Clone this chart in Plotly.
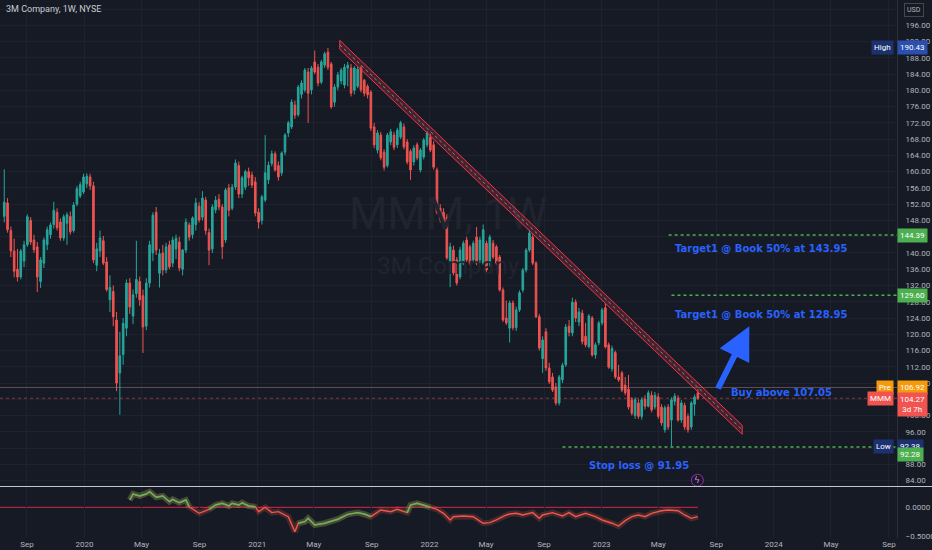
"""3M Company weekly chart (TradingView dark style) with descending trend channel,
targets / stop loss notes and a small oscillator pane underneath."""
import pandas as pd
import plotly.graph_objects as go

BG = "#161a25"
GRID = "#1e222d"
TXT = "#b2b5be"
UP = "#26a69a"
DOWN = "#ef5350"
BLUE = "#2962ff"
GREEN = "#4caf50"
FONT = "Roboto"

# weekly candles (first week starts 2019-07-15)
week_start = "2019-07-15"
opens = [
    149.0, 152.3, 145.5, 140.5, 136.0, 134.1, 138.0, 142.0, 148.0, 143.2,
    141.5, 133.0, 137.5, 142.0, 144.5, 147.0, 150.0, 147.6, 143.7, 147.3,
    149.0, 145.5, 152.0, 154.0, 155.0, 157.0, 158.7, 156.5, 137.0, 140.5,
    143.0, 137.8, 128.5, 130.5, 123.5, 110.5, 115.0, 121.5, 132.6, 124.5,
    130.0, 133.0, 129.5, 122.0, 132.6, 140.0, 150.0, 135.0, 140.0, 135.8,
    142.0, 137.5, 141.0, 142.7, 136.0, 140.7, 146.9, 144.5, 147.0, 151.5,
    148.8, 153.0, 145.0, 141.0, 150.6, 153.2, 151.3, 143.2, 156.0, 151.0,
    156.2, 161.5, 154.5, 156.2, 160.0, 159.2, 157.5, 150.0, 148.0, 153.0,
    158.0, 162.0, 164.4, 161.5, 159.7, 164.8, 169.5, 171.0, 176.4, 174.0,
    179.0, 180.1, 184.5, 180.1, 187.0, 185.7, 182.0, 186.2, 189.4, 186.5,
    177.1, 180.8, 182.3, 181.3, 185.5, 185.5, 180.0, 181.0, 185.5, 182.5,
    181.0, 179.6, 171.0, 165.3, 169.0, 164.8, 161.5, 167.3, 169.0, 166.6,
    168.5, 171.0, 167.3, 165.0, 162.4, 166.6, 160.4, 163.6, 166.6, 168.5,
    166.6, 160.4, 151.0, 150.0, 148.8, 137.5, 140.7, 138.3, 134.1, 137.5,
    143.2, 141.5, 138.3, 143.9, 138.3, 137.5, 142.4, 137.5, 142.4, 141.5,
    139.0, 130.9, 124.0, 121.5, 127.7, 121.6, 126.0, 130.9, 135.8, 140.7,
    143.9, 137.5, 124.3, 114.0, 120.6, 111.7, 109.5, 107.0, 103.1, 108.8,
    112.5, 122.0, 120.3, 127.9, 123.0, 125.2, 119.5, 117.0, 124.0, 114.9,
    117.9, 122.8, 126.5, 117.4, 111.5, 115.5, 109.5, 110.5, 107.5, 106.5,
    103.9, 100.0, 103.1, 99.8, 104.0, 102.3, 105.0, 102.1, 104.6, 102.1,
    96.5, 102.1, 98.9, 103.5, 104.3, 98.9, 102.5, 99.8, 97.2, 102.8,
    105.6,
]
highs = [
    160.6, 153.5, 146.5, 143.5, 141.0, 141.0, 143.0, 149.5, 148.8, 144.5,
    142.7, 139.0, 143.8, 146.5, 147.5, 152.6, 151.0, 148.5, 149.5, 150.0,
    150.2, 152.5, 156.5, 157.5, 159.5, 159.6, 159.5, 157.5, 142.5, 145.5,
    144.2, 139.0, 134.5, 132.0, 125.5, 120.6, 124.0, 133.5, 133.8, 131.0,
    143.0, 134.2, 131.0, 133.8, 143.0, 150.0, 151.3, 141.0, 142.0, 142.5,
    143.0, 144.0, 144.5, 144.0, 141.0, 148.5, 147.5, 149.0, 153.5, 152.5,
    155.2, 153.8, 146.0, 152.0, 154.0, 154.5, 152.0, 156.0, 157.0, 157.0,
    163.0, 162.5, 159.0, 160.5, 161.0, 160.0, 158.7, 151.0, 154.3, 169.0,
    162.5, 165.2, 165.0, 162.5, 165.0, 169.5, 172.5, 177.8, 177.5, 181.3,
    182.5, 185.5, 185.5, 186.0, 189.8, 186.5, 187.5, 189.5, 190.43, 187.0,
    181.5, 184.5, 185.5, 186.5, 187.0, 186.5, 186.0, 185.8, 186.0, 182.8,
    181.5, 180.0, 172.0, 170.2, 169.8, 165.5, 169.5, 170.5, 169.8, 170.8,
    172.5, 171.8, 168.0, 165.5, 166.5, 167.2, 165.8, 168.3, 170.0, 169.3,
    167.5, 161.0, 152.0, 151.0, 149.5, 142.5, 141.8, 139.0, 141.5, 143.0,
    144.0, 142.0, 143.0, 146.4, 144.0, 147.0, 143.0, 144.5, 143.2, 142.0,
    139.5, 131.5, 128.3, 128.3, 128.3, 126.8, 130.8, 136.3, 141.2, 145.7,
    144.6, 138.0, 125.0, 119.5, 121.5, 113.0, 110.5, 108.0, 110.0, 113.0,
    122.5, 123.5, 129.0, 128.6, 126.5, 126.0, 122.8, 125.0, 124.5, 118.0,
    123.3, 126.5, 127.6, 118.0, 117.2, 116.0, 112.5, 111.0, 109.5, 110.0,
    104.5, 104.5, 104.0, 104.5, 105.0, 106.2, 106.0, 105.8, 105.5, 102.8,
    102.5, 102.8, 104.5, 105.5, 105.0, 103.8, 103.2, 100.5, 103.6, 105.2,
    106.5,
]
lows = [
    147.5, 145.0, 139.0, 134.0, 133.0, 133.5, 136.5, 141.5, 142.0, 140.0,
    130.4, 131.4, 136.3, 140.7, 143.5, 146.0, 145.5, 143.0, 143.0, 142.0,
    144.5, 145.0, 151.5, 153.5, 154.5, 156.0, 155.5, 137.5, 135.5, 139.0,
    137.0, 130.5, 125.5, 122.0, 106.0, 100.2, 112.5, 119.5, 125.0, 122.5,
    129.0, 127.0, 115.4, 121.0, 131.5, 138.0, 139.5, 131.5, 134.5, 135.0,
    136.0, 136.5, 138.5, 135.5, 134.5, 140.0, 143.0, 143.5, 145.5, 147.5,
    148.0, 144.5, 137.0, 140.0, 149.8, 150.5, 138.5, 142.5, 149.0, 150.5,
    155.5, 153.5, 153.5, 155.5, 156.5, 156.0, 149.0, 146.0, 147.0, 152.5,
    157.0, 161.3, 160.0, 157.8, 159.0, 164.0, 168.5, 170.5, 173.0, 173.5,
    178.0, 179.5, 172.0, 179.0, 184.0, 181.0, 181.5, 185.5, 185.0, 175.5,
    176.0, 180.0, 181.5, 180.5, 181.0, 178.5, 179.0, 180.5, 179.5, 178.5,
    178.0, 170.0, 165.8, 164.5, 162.8, 160.3, 161.0, 166.5, 165.3, 165.8,
    168.0, 165.5, 161.8, 158.0, 161.5, 162.8, 159.8, 163.0, 166.0, 164.8,
    160.5, 149.5, 147.5, 146.0, 138.3, 131.6, 134.5, 132.0, 133.5, 137.0,
    137.8, 137.0, 137.5, 137.0, 137.5, 137.0, 135.3, 136.8, 138.5, 137.0,
    130.5, 123.0, 122.3, 118.0, 121.0, 120.8, 125.5, 130.3, 135.2, 140.2,
    137.0, 124.0, 116.0, 110.5, 111.0, 107.8, 105.8, 102.5, 102.5, 108.0,
    112.0, 119.5, 119.5, 123.0, 122.0, 117.5, 116.8, 116.5, 114.5, 114.0,
    117.3, 122.2, 116.5, 111.5, 110.8, 109.0, 108.3, 105.8, 105.0, 101.5,
    100.0, 99.2, 99.2, 99.0, 101.5, 102.0, 100.8, 101.5, 99.2, 97.5,
    95.8, 96.5, 92.38, 102.5, 98.5, 98.2, 96.5, 95.8, 96.5, 100.0,
    103.8,
]
closes = [
    152.5, 145.7, 140.5, 135.5, 134.1, 140.5, 142.0, 148.9, 142.7, 140.8,
    134.1, 138.3, 143.2, 145.7, 146.9, 150.5, 146.2, 143.7, 148.9, 149.4,
    145.2, 151.8, 155.8, 156.8, 158.7, 158.9, 156.5, 138.3, 141.0, 143.7,
    137.5, 131.0, 131.5, 124.3, 108.0, 114.7, 122.7, 132.6, 126.7, 129.7,
    133.5, 128.5, 121.8, 132.6, 142.0, 149.3, 140.7, 139.8, 135.8, 141.5,
    136.6, 143.2, 143.6, 136.3, 140.7, 147.6, 143.9, 148.6, 152.3, 148.1,
    153.5, 145.5, 140.7, 151.3, 153.0, 151.3, 141.5, 155.5, 150.5, 156.2,
    162.1, 154.5, 158.5, 160.0, 158.5, 156.7, 149.8, 147.6, 153.8, 159.7,
    161.6, 164.4, 160.4, 158.7, 164.6, 169.0, 172.0, 177.1, 173.9, 180.8,
    181.8, 185.0, 179.3, 185.5, 184.5, 181.8, 187.0, 189.0, 185.7, 175.9,
    180.8, 183.8, 185.0, 185.7, 186.2, 179.3, 185.5, 185.2, 180.1, 179.3,
    178.9, 170.7, 166.6, 169.5, 163.4, 161.1, 169.0, 169.8, 166.0, 170.2,
    172.0, 166.1, 162.4, 160.4, 165.8, 163.4, 165.3, 167.8, 169.5, 165.3,
    161.1, 150.0, 148.3, 147.0, 138.8, 141.5, 135.1, 132.6, 140.7, 142.4,
    138.3, 137.5, 142.4, 137.5, 143.2, 145.7, 135.8, 143.9, 139.0, 137.5,
    130.9, 123.5, 122.8, 127.7, 121.6, 126.0, 130.2, 135.8, 140.7, 144.9,
    137.5, 124.3, 116.6, 118.6, 111.7, 108.3, 106.3, 103.1, 109.5, 112.4,
    121.8, 120.5, 127.9, 124.0, 125.5, 118.2, 117.4, 124.5, 114.9, 117.4,
    122.8, 126.0, 116.9, 111.9, 116.5, 109.5, 108.8, 106.3, 105.6, 102.1,
    100.6, 103.9, 99.8, 103.9, 102.3, 105.6, 101.4, 105.0, 99.8, 98.2,
    101.9, 97.2, 103.9, 104.8, 98.9, 103.1, 97.2, 96.5, 103.1, 104.6,
    104.27,
]

# lower pane oscillator: week index into the candles, value
osc_week = [38, 39, 41, 43, 44, 46, 48, 50, 51, 53, 55, 56, 59, 62, 64, 66, 68, 69, 71, 72,
            74, 76, 77, 79, 81, 83, 86, 88, 89, 91, 92, 94, 97, 101, 104, 107, 109, 111, 114, 117,
            119, 122, 123, 125, 127, 129, 131, 133, 135, 136, 139, 142, 144, 145, 147, 149, 152, 153, 155, 157,
            160, 162, 163, 166, 169, 171, 173, 176, 179, 181, 184, 186, 188, 190, 192, 194, 196, 199, 201, 204,
            206, 208, 210]
osc_value = [0.128, 0.234, 0.199, 0.234, 0.275, 0.176, 0.199, 0.099, 0.14, 0.08,
             0.128, 0.01, -0.106, -0.035, 0.04, 0.07, 0.023, 0.07, 0.04, 0.08,
             0.023, 0.01, -0.077, 0.0, -0.094, -0.077, -0.165, -0.43, -0.28, -0.253,
             -0.194, -0.311, -0.28, -0.21, -0.124, -0.094, -0.118, -0.165, -0.047, -0.077,
             -0.035, -0.094, 0.04, 0.07, 0.04, 0.0, -0.035, -0.106, -0.223, -0.165,
             -0.153, -0.165, -0.235, -0.28, -0.27, -0.223, -0.135, -0.118, -0.106, -0.135,
             -0.094, -0.194, -0.135, -0.094, -0.153, -0.094, -0.165, -0.106, -0.165, -0.223,
             -0.28, -0.33, -0.235, -0.165, -0.135, -0.165, -0.106, -0.06, -0.047, -0.06,
             -0.135, -0.194, -0.165]
osc_green_runs = [(38, 56), (62, 76), (89, 111), (122, 129)]  # week ranges drawn green

# drawings
trend_dates = ["2021-06-25", "2023-10-26"]
trend_prices = [191.2, 96.5]
band = 1.1
target1, target1_from = 144.39, "2023-05-23"
target2, target2_from = 129.60, "2023-05-29"
stop, stop_from = 92.28, "2022-10-10"
last_price, pre_price = 104.27, 106.92
high_price, low_price = 190.43, 92.38
notes = [
    ("Target1 @ Book 50% at 143.95", "2023-06-01", 141.0),
    ("Target1 @ Book 50% at 128.95", "2023-06-01", 124.9),
    ("Buy above 107.05", "2023-09-28", 105.6),
    ("Stop loss @ 91.95", "2022-12-01", 87.7),
]
arrow_tail = ("2023-09-03", 106.3)
arrow_head = ("2023-11-10", 122.0)

x_range = ["2019-07-06", "2024-09-18"]
tick_dates = ["2019-09-01", "2020-01-01", "2020-05-01", "2020-09-01", "2021-01-01", "2021-05-01",
              "2021-09-01", "2022-01-01", "2022-05-01", "2022-09-01", "2023-01-01", "2023-05-01",
              "2023-09-01", "2024-01-01", "2024-05-01", "2024-09-01"]
tick_text = ["Sep", "2020", "May", "Sep", "2021", "May", "Sep", "2022", "May", "Sep",
             "2023", "May", "Sep", "2024", "May", "Sep"]
price_ticks = list(range(84, 201, 4))
hidden_ticks = [92, 104, 144, 200]  # covered by the price tags in the picture
price_text = ["" if v in hidden_ticks else f"{v:.2f}" for v in price_ticks]

dates = pd.date_range(week_start, periods=len(closes), freq="7D")

fig = go.Figure()

# watermark (behind candles)
fig.add_trace(go.Scatter(
    x=["2022-02-10", "2022-02-10"], y=[148.6, 136.3], mode="text",
    text=["MMM, 1W", "3M Company"],
    textfont=dict(family=FONT, size=[44, 24], color="#20242f"),
    hoverinfo="skip", showlegend=False,
))

fig.add_trace(go.Candlestick(
    x=dates, open=opens, high=highs, low=lows, close=closes,
    increasing=dict(line=dict(color=UP, width=1), fillcolor=UP),
    decreasing=dict(line=dict(color=DOWN, width=1), fillcolor=DOWN),
    whiskerwidth=0, hoverinfo="skip", showlegend=False,
))

# trend channel
d0, d1 = trend_dates
p0, p1 = trend_prices
fig.add_trace(go.Scatter(
    x=[d0, d1, d1, d0, d0], y=[p0 + band, p1 + band, p1 - band, p0 - band, p0 + band],
    mode="lines", fill="toself", fillcolor="rgba(242,54,69,0.22)",
    line=dict(color="#f23645", width=1), hoverinfo="skip", showlegend=False,
))
fig.add_trace(go.Scatter(
    x=trend_dates, y=trend_prices, mode="lines",
    line=dict(color="rgba(150,165,200,0.75)", width=1, dash="dot"),
    hoverinfo="skip", showlegend=False,
))

# oscillator pane
osc_dates = [dates[i] for i in osc_week]
fig.add_trace(go.Scatter(x=osc_dates, y=osc_value, mode="lines", xaxis="x2", yaxis="y2",
                         line=dict(color="rgba(240,86,74,0.22)", width=6), hoverinfo="skip", showlegend=False))
fig.add_trace(go.Scatter(x=osc_dates, y=osc_value, mode="lines", xaxis="x2", yaxis="y2",
                         line=dict(color="#f0564a", width=1.4), hoverinfo="skip", showlegend=False))
for a, b in osc_green_runs:
    xs = [d for d, w in zip(osc_dates, osc_week) if a <= w <= b]
    ys = [v for v, w in zip(osc_value, osc_week) if a <= w <= b]
    fig.add_trace(go.Scatter(x=xs, y=ys, mode="lines", xaxis="x2", yaxis="y2",
                             line=dict(color="rgba(76,175,80,0.25)", width=6), hoverinfo="skip", showlegend=False))
    fig.add_trace(go.Scatter(x=xs, y=ys, mode="lines", xaxis="x2", yaxis="y2",
                             line=dict(color="#5cb85c", width=1.4), hoverinfo="skip", showlegend=False))

fig.add_shape(type="line", xref="x2", yref="y2", x0=x_range[0], x1=dates[-1], y0=0, y1=0,
              line=dict(color="#b2233f", width=1.2), layer="below")

# horizontal price lines
fig.add_shape(type="line", xref="paper", yref="y", x0=0, x1=1, y0=pre_price, y1=pre_price,
              line=dict(color="rgba(190,140,140,0.45)", width=1))
fig.add_shape(type="line", xref="paper", yref="y", x0=0, x1=1, y0=last_price, y1=last_price,
              line=dict(color="rgba(239,83,80,0.55)", width=1, dash="dot"))
for lvl, start in [(target1, target1_from), (target2, target2_from), (stop, stop_from)]:
    fig.add_shape(type="line", xref="x", yref="y", x0=start, x1=x_range[1], y0=lvl, y1=lvl,
                  line=dict(color=GREEN, width=1.5, dash="dot"))

# pane separator
fig.add_shape(type="line", xref="paper", yref="paper", x0=0, x1=1.04, y0=0.0957, y1=0.0957,
              line=dict(color="#c4c7d0", width=1))

# notes and arrow
for text, d, p in notes:
    fig.add_annotation(x=d, y=p, xref="x", yref="y", text=text, showarrow=False,
                       xanchor="left", yanchor="middle",
                       font=dict(family="DejaVu Sans", size=10, color=BLUE, weight="bold"))
fig.add_annotation(x=arrow_head[0], y=arrow_head[1], ax=arrow_tail[0], ay=arrow_tail[1],
                   xref="x", yref="y", axref="x", ayref="y", text="", showarrow=True,
                   arrowhead=2, arrowsize=1.1, arrowwidth=6, arrowcolor=BLUE)

# lightning marker
fig.add_shape(type="circle", xref="x", yref="y", xsizemode="pixel", ysizemode="pixel",
              xanchor="2023-07-23", yanchor=84.1, x0=-6, x1=6, y0=-6, y1=6,
              line=dict(color="#9c27b0", width=1))
fig.add_annotation(x="2023-07-23", y=84.1, xref="x", yref="y", text="ϟ", showarrow=False,
                   font=dict(family="DejaVu Sans", size=9, color="#ce93d8"))


def axis_tag(price, text, bg, yshift=0, yanchor="middle"):
    fig.add_annotation(xref="paper", yref="y", x=1, y=price, text=text, showarrow=False,
                       xanchor="left", yanchor=yanchor, yshift=yshift, bgcolor=bg, borderpad=2,
                       font=dict(family=FONT, size=8, color="#ffffff"), align="center")


def side_tag(price, text, bg, yshift=0):
    fig.add_annotation(xref="paper", yref="y", x=1, y=price, text=text, showarrow=False,
                       xanchor="right", yanchor="middle", xshift=-3, yshift=yshift, bgcolor=bg,
                       borderpad=2, font=dict(family=FONT, size=8, color="#ffffff"))


axis_tag(high_price, f"{high_price:.2f}", "#2a4fb0")
side_tag(high_price, "High", "#1c3270")
axis_tag(target1, f"{target1:.2f}", GREEN)
axis_tag(target2, f"{target2:.2f}", GREEN)
axis_tag(pre_price, f"{pre_price:.2f}", "#f59b0b")
side_tag(pre_price, "Pre", "#f59b0b")
axis_tag(last_price, f"{last_price:.2f}<br>3d 7h", "#f05350", yshift=6, yanchor="top")
side_tag(last_price, "MMM", "#f05350")
axis_tag(low_price, f"{low_price:.2f}", "#1c3270")
side_tag(low_price, "Low", "#1c3270")
axis_tag(stop, f"{stop:.2f}", GREEN, yshift=-8)

fig.add_annotation(xref="paper", yref="paper", x=1, y=1, xanchor="left", yanchor="top",
                   xshift=7, yshift=-3, text="USD", showarrow=False, bgcolor=BG,
                   bordercolor="#434651", borderwidth=1, borderpad=2,
                   font=dict(family=FONT, size=7, color=TXT))
fig.add_annotation(xref="paper", yref="paper", x=0, y=1, xanchor="left", yanchor="top",
                   xshift=4, yshift=-2, text="3M Company, 1W, NYSE", showarrow=False,
                   font=dict(family=FONT, size=9, color="#c8cbd3"))

fig.update_layout(
    width=932, height=550, template="none",
    margin=dict(l=0, r=35, t=0, b=12),
    paper_bgcolor=BG, plot_bgcolor=BG, showlegend=False,
    font=dict(family=FONT, size=8, color=TXT),
    xaxis=dict(domain=[0, 1], anchor="y", type="date", range=x_range, tickvals=tick_dates,
               showticklabels=False, showgrid=True, gridcolor=GRID, zeroline=False, ticks="",
               rangeslider=dict(visible=False), automargin=False, showline=False),
    xaxis2=dict(domain=[0, 1], anchor="y2", type="date", matches="x", tickvals=tick_dates,
                ticktext=tick_text, showgrid=True, gridcolor=GRID, zeroline=False, ticks="",
                tickfont=dict(size=8, color=TXT), automargin=False, showline=False),
    yaxis=dict(domain=[0.0967, 1], anchor="x", side="right", range=[82.69, 202.22],
               tickvals=price_ticks, ticktext=price_text, showgrid=True, gridcolor=GRID,
               zeroline=False, ticks="", showline=True, linecolor="#2a2e39",
               tickfont=dict(size=8, color=TXT), ticklabelstandoff=6, automargin=False),
    yaxis2=dict(domain=[0, 0.0948], anchor="x2", side="right", range=[-0.54, 0.357],
                tickvals=[0, -0.5], ticktext=["0.0000", "\u22120.5000"], showgrid=False,
                zeroline=False, ticks="", showline=True, linecolor="#2a2e39",
                tickfont=dict(size=8, color=TXT), ticklabelstandoff=6, automargin=False),
)

# drop the default page margin so the 932x550 figure fills the window
fig.write_html("out.html", config={"displayModeBar": False},
               post_script="document.body.style.margin='0';"
                           "document.body.style.background='" + BG + "';")
